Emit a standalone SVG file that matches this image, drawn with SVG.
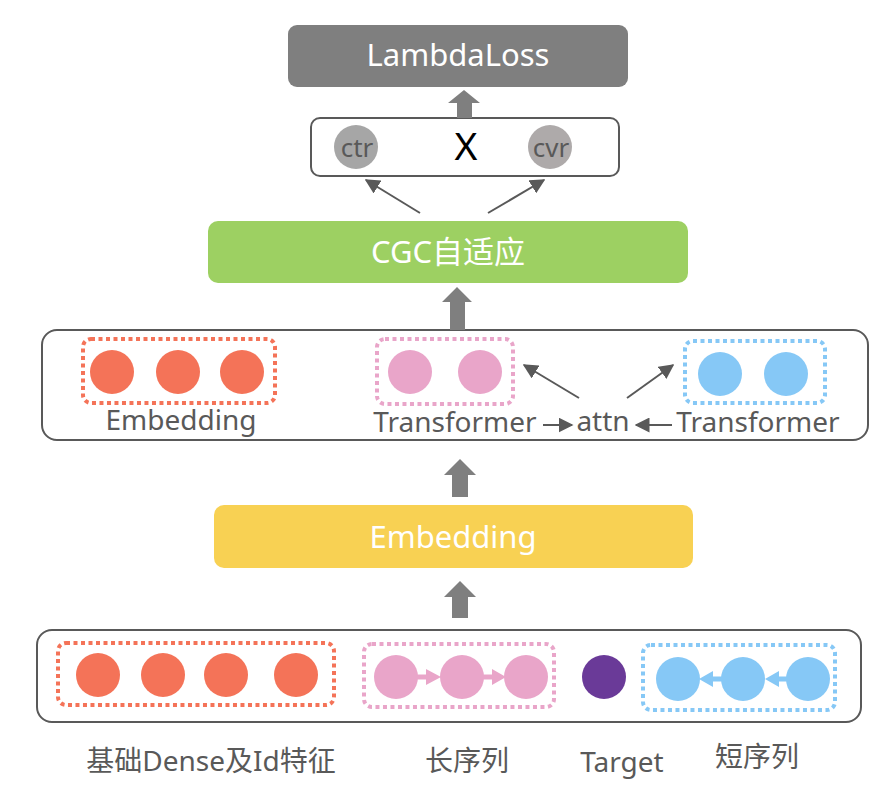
<svg xmlns="http://www.w3.org/2000/svg" width="888" height="787" viewBox="0 0 888 787">
<style>
.t{font-family:"Noto Sans","Noto Sans CJK SC",sans-serif;fill:#595959;text-anchor:middle}
.w{font-family:"Noto Sans","Noto Sans CJK SC",sans-serif;fill:#ffffff;text-anchor:middle}
.frame{fill:#ffffff;stroke:#595959;stroke-width:2}
.dot{fill:none;stroke-width:4;stroke-dasharray:4 3.5}
.or{fill:#f47358}
.pk{fill:#e9a5c9}
.bl{fill:#86c8f6}
.conn{stroke:#595959;stroke-width:2;fill:none}
.blk{fill:#7f7f7f}
</style>
<defs>
<marker id="ah2" viewBox="0 0 10 10" refX="9" refY="5" markerWidth="15" markerHeight="15" markerUnits="userSpaceOnUse" orient="auto">
<path d="M0,0 L10,5 L0,10 z" fill="#595959"/>
</marker>
</defs>

<g id="lambdaloss">
<rect x="288" y="25" width="340" height="62" rx="9" fill="#7f7f7f"/>
<text class="w" x="458" y="66" font-size="31">LambdaLoss</text>
</g>

<g id="ctrcvr">
<rect class="frame" x="311" y="118" width="308" height="58" rx="9"/>
<circle cx="356" cy="147" r="22" fill="#a6a6a6"/>
<text class="t" x="357" y="157" font-size="26">ctr</text>
<text x="466" y="160" font-size="39" fill="#000000" text-anchor="middle" font-family="Noto Sans, sans-serif">X</text>
<circle cx="550" cy="147" r="22" fill="#aeaaaa"/>
<text class="t" x="551" y="157" font-size="26">cvr</text>
</g>

<g id="cgc">
<rect x="208" y="221" width="480" height="62" rx="10" fill="#9dd062"/>
<text class="w" x="448" y="263" font-size="31">CGC自适应</text>
</g>

<g id="middle">
<rect class="frame" x="42" y="330" width="826" height="110" rx="15"/>
<rect class="dot" x="83" y="339" width="192" height="64" rx="8" stroke="#f47358"/>
<circle class="or" cx="112" cy="372" r="22"/>
<circle class="or" cx="178" cy="372" r="22"/>
<circle class="or" cx="242" cy="372" r="22"/>
<text class="t" x="181" y="430" font-size="28">Embedding</text>
<rect class="dot" x="377" y="339" width="136" height="65" rx="8" stroke="#e9a5c9"/>
<circle class="pk" cx="410" cy="372" r="22"/>
<circle class="pk" cx="480" cy="372" r="22"/>
<text class="t" x="455" y="432" font-size="28">Transformer</text>
<text class="t" x="603" y="431" font-size="28">attn</text>
<rect class="dot" x="685" y="341" width="140" height="62" rx="8" stroke="#86c8f6"/>
<circle class="bl" cx="720" cy="374" r="22"/>
<circle class="bl" cx="786" cy="374" r="22"/>
<text class="t" x="758" y="432" font-size="28">Transformer</text>
</g>

<g id="embedding">
<rect x="214" y="505" width="479" height="63" rx="10" fill="#f8d153"/>
<text class="w" x="453" y="548" font-size="31">Embedding</text>
</g>

<g id="inputs">
<rect class="frame" x="37" y="630" width="824" height="92" rx="15"/>
<rect class="dot" x="58" y="643" width="276" height="62" rx="8" stroke="#f47358"/>
<circle class="or" cx="98" cy="675" r="22"/>
<circle class="or" cx="163" cy="675" r="22"/>
<circle class="or" cx="226" cy="675" r="22"/>
<circle class="or" cx="296" cy="675" r="22"/>
<rect class="dot" x="364" y="644" width="190" height="63" rx="8" stroke="#e9a5c9"/>
<circle class="pk" cx="396" cy="677" r="22"/>
<circle class="pk" cx="462" cy="677" r="22"/>
<circle class="pk" cx="526" cy="677" r="22"/>
<rect x="416" y="674.5" width="12" height="5" fill="#e9a5c9"/>
<path d="M426,669 L441,677 L426,685 z" fill="#e9a5c9"/>
<rect x="482" y="674.5" width="12" height="5" fill="#e9a5c9"/>
<path d="M492,669 L506,677 L492,685 z" fill="#e9a5c9"/>
<circle cx="604" cy="677" r="22" fill="#6a3a98"/>
<rect class="dot" x="643" y="645" width="192" height="65" rx="8" stroke="#86c8f6"/>
<circle class="bl" cx="678" cy="679" r="22"/>
<circle class="bl" cx="743" cy="679" r="22"/>
<circle class="bl" cx="808" cy="679" r="22"/>
<rect x="710" y="676.5" width="14" height="5" fill="#86c8f6"/>
<path d="M713,671 L699,679 L713,687 z" fill="#86c8f6"/>
<rect x="775" y="676.5" width="14" height="5" fill="#86c8f6"/>
<path d="M779,671 L765,679 L779,687 z" fill="#86c8f6"/>
</g>

<g id="labels">
<text class="t" x="211" y="771" font-size="28">基础Dense及Id特征</text>
<text class="t" x="467" y="771" font-size="28">长序列</text>
<text class="t" x="622" y="772" font-size="28">Target</text>
<text class="t" x="757" y="767" font-size="28">短序列</text>
</g>

<g id="connectors">
<path class="blk" d="M464,90 L480,103 L472,103 L472,118 L457,118 L457,103 L448,103 z"/>
<path class="blk" d="M457,287 L472,302 L465,302 L465,330 L450,330 L450,302 L442,302 z"/>
<path class="blk" d="M460,459 L476,475 L468,475 L468,497 L452,497 L452,475 L444,475 z"/>
<path class="blk" d="M460,581 L476,597 L468,597 L468,618 L452,618 L452,597 L444,597 z"/>
<line class="conn" x1="420" y1="213" x2="366" y2="180" marker-end="url(#ah2)"/>
<line class="conn" x1="488" y1="213" x2="544" y2="180" marker-end="url(#ah2)"/>
<line class="conn" x1="579" y1="398" x2="524" y2="365" marker-end="url(#ah2)"/>
<line class="conn" x1="627" y1="398" x2="673" y2="365" marker-end="url(#ah2)"/>
<line class="conn" x1="543" y1="425" x2="572" y2="425" marker-end="url(#ah2)"/>
<line class="conn" x1="672" y1="425" x2="636" y2="425" marker-end="url(#ah2)"/>
</g>
</svg>
